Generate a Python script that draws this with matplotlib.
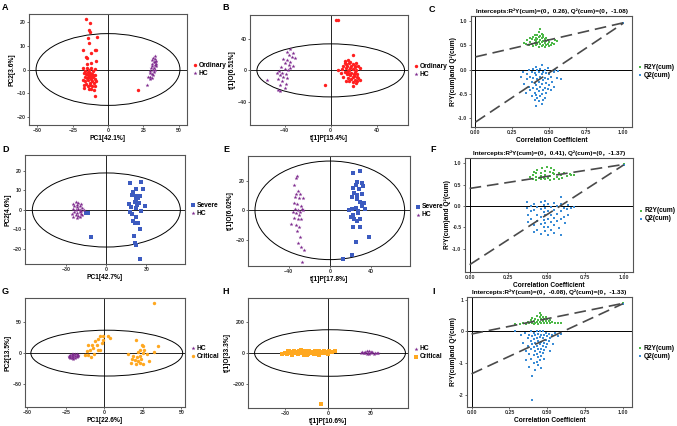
import numpy as np
import matplotlib.pyplot as plt
from matplotlib.patches import Ellipse

plt.rcParams['font.family'] = ['Liberation Sans', 'Noto Sans CJK SC']
plt.rcParams['font.weight'] = 'bold'
plt.rcParams['axes.labelweight'] = 'bold'

RED = '#FF1F1F'
PURPLE = '#7E2A8E'
SQBLUE = '#3C5BC0'
ORANGE = '#FFA820'
GREEN = '#4DB848'
PBLUE = '#3A8CD6'

# ---- A: PCA Ordinary vs HC ----
a_ord_x = [-15.7, -12.9, -13.4, -12.9, -7.5, -14.1, -13.4, -17.6, -9.4, -8.2, -11.7, -15.7, -14.8, -8.2,
           -12.4, -14.8, -17.5, -16, -15, -13.5, -12, -10.5, -9, -17, -15.5, -14, -12.5, -11, -9.5,
           -16.5, -15, -13.5, -12, -10.5, -9, -17.8, -16, -14.5, -13, -11.5, -10, -8.8, -15.5, -14,
           -12.5, -11, -9.5, -17, -13.5, -12, -10, -14.5, -11.8, -13, -16.8, -10.8, -8.9, 21.1]
a_ord_y = [21.3, 19.5, 16.5, 15.8, 13.7, 13, 11.2, 8.1, 8.1, 8.1, 7, 5.3, 5, 3.6,
           2.8, 2.5, 0.5, -0.5, 0.8, -0.2, 0.5, -0.8, 0.2, -1.5, -2, -1.2, -2.5, -1.8, -2.2,
           -3, -3.5, -3, -4, -3.2, -3.8, -4.5, -5, -4.5, -5.5, -5, -5.8, -4.8, -6.2, -6.8,
           -6.5, -7, -6.8, -7.8, -8, -8.3, -8.5, -2.5, -3.3, -1.5, -6.5, -2.5, -11.2, -8.6]
a_hc_x = [33, 32, 33.5, 31.5, 34, 32.5, 31, 33, 34, 31.5, 32.5, 30.5, 33.5, 31.8, 30, 32.8, 29.5,
          31, 32, 30, 28.5, 31.5, 29.8, 27.8, 33, 34.2]
a_hc_y = [5.8, 5, 4.5, 4, 3.5, 3, 2.5, 2, 1.5, 1.5, 0.8, 0.5, 0, -0.2, -0.8, -1, -1.5,
          -2, -2.5, -3, -3.2, -3.5, -4, -6.5, 3, 2.5]

# ---- B: OPLS-DA Ordinary vs HC ----
b_ord_x = [5, 6, -5, 19, 12, 15, 17, 13, 16, 19, 22, 11, 14, 18, 21, 24, 10, 13, 16, 19, 22, 25, 6,
           12, 15, 18, 21, 23, 14, 17, 20, 23, 11, 15, 18, 21, 24, 16, 19, 22, 19, 13, 20, 17, 14,
           12, 9, 23, 25, 16, 19, 21]
b_ord_y = [65, 64.5, -19, 20, 12, 13, 11, 8, 9, 8, 10, 5, 6, 5, 4, 6, 2, 2.5, 1, 2, 0, 3, 0,
           -2, -1, -3, -2, -4, -5, -6, -7, -8, -8, -10, -11, -12, -10, -14, -15, -16, -20, -14, -5, 3,
           -2.5, 10, -3, -13, -12, -4, -9, 6]
b_hc_x = [-35, -38, -33, -36, -34, -31, -41, -38, -35, -40, -36, -33, -43, -40, -37, -45, -42, -39,
          -44, -41, -38, -46, -55, -42, -39, -44, -40, -46, -44, -35, -47]
b_hc_y = [28, 24, 22, 20, 17, 16, 15, 13, 11, 9, 7, 6, 4, 2, 1, -1, -3, -5,
          -6, -8, -10, -11, -12, -14, -17, -19, -22, -25, -27, 3, -3]

# ---- C: permutation test ----
c_r2_x = [0.33, 0.34, 0.35, 0.36, 0.37, 0.38, 0.38, 0.39, 0.39, 0.40, 0.40, 0.40, 0.41, 0.41, 0.42,
          0.42, 0.42, 0.43, 0.43, 0.43, 0.43, 0.44, 0.44, 0.44, 0.44, 0.45, 0.45, 0.45, 0.45, 0.46,
          0.46, 0.46, 0.47, 0.47, 0.47, 0.48, 0.48, 0.49, 0.49, 0.50, 0.50, 0.51, 0.52, 0.53, 0.54,
          0.55, 0.37, 0.41, 0.46, 0.48, 1.0]
c_r2_y = [0.55, 0.52, 0.60, 0.50, 0.57, 0.53, 0.62, 0.48, 0.66, 0.55, 0.60, 0.70, 0.50, 0.58, 0.53,
          0.63, 0.72, 0.47, 0.57, 0.67, 0.78, 0.52, 0.60, 0.69, 0.84, 0.49, 0.56, 0.64, 0.74, 0.51,
          0.59, 0.67, 0.47, 0.55, 0.62, 0.50, 0.58, 0.53, 0.61, 0.48, 0.56, 0.51, 0.55, 0.52, 0.60,
          0.58, 0.64, 0.65, 0.72, 0.65, 0.96]
c_q2_x = [0.31, 0.32, 0.33, 0.34, 0.35, 0.35, 0.36, 0.36, 0.37, 0.37, 0.38, 0.38, 0.38, 0.39, 0.39,
          0.39, 0.40, 0.40, 0.40, 0.40, 0.41, 0.41, 0.41, 0.41, 0.41, 0.42, 0.42, 0.42, 0.42, 0.43,
          0.43, 0.43, 0.43, 0.44, 0.44, 0.44, 0.44, 0.45, 0.45, 0.45, 0.45, 0.45, 0.46, 0.46, 0.46,
          0.46, 0.47, 0.47, 0.47, 0.47, 0.48, 0.48, 0.48, 0.49, 0.49, 0.49, 0.50, 0.50, 0.51, 0.51,
          0.52, 0.53, 0.53, 0.54, 0.55, 0.56, 0.58, 1.0]
c_q2_y = [-0.15, -0.05, -0.30, -0.48, -0.10, -0.20, 0.00, -0.35, -0.15, -0.42, -0.05, -0.25, -0.55,
          0.02, -0.18, -0.38, -0.08, -0.28, -0.48, -0.62, 0.05, -0.12, -0.32, -0.52, -0.75, 0.00,
          -0.20, -0.40, -0.58, -0.05, -0.25, -0.45, -0.65, 0.02, -0.15, -0.35, -0.55, 0.10, -0.10,
          -0.30, -0.50, -0.70, -0.05, -0.22, -0.42, -0.62, 0.00, -0.18, -0.38, -0.58, -0.08, -0.28,
          -0.48, 0.03, -0.20, -0.40, -0.10, -0.32, -0.15, -0.42, -0.25, -0.05, -0.35, 0.00, -0.18,
          -0.02, -0.20, 0.95]

# ---- D: PCA Severe vs HC ----
d_sev_x = [18, 26.25, 20, 22, 27.5, 19.5, 22.5, 23.75, 25, 21.25, 24.5, 17, 18.75, 28.75, 22.5, 26.25,
           19.5, 22.5, 20, 23.75, 21.25, 25, 20.5, 21.25, 22.5, 25, -13.75, -15, -11.25, 18, 23, 22]
d_sev_y = [14, 14.5, 9.4, 11, 11, 7.7, 7.2, 6, 7.2, 4.3, 3.8, 3.1, 1.7, 2, 0.9, -0.3,
           -2, -3.4, -5.5, -6.8, -6.5, -9.9, -13.3, -16.8, -18, -25.3, -1.4, -1.7, -13.7, -0.9, 2.6, 5.8]
d_hc_x = [-25, -23, -21, -19, -24, -22, -20, -18, -25, -23, -21, -19, -17, -24, -22, -20, -26, -23,
          -21, -19, -25, -22, -20, -18, -22, -20]
d_hc_y = [3, 4, 3.5, 3, 2, 1.5, 2, 1, 0.5, 0, 0.5, -0.5, 0, -1, -1.5, -1, -2, -2.5,
          -3, -2, -3.5, -4, -3.8, -2.5, 2.5, 0]

# ---- E: OPLS-DA Severe vs HC ----
e_sev_x = [23, 29.4, 26.2, 31, 25.2, 32.4, 23, 28.5, 24, 26.5, 31.7, 21.4, 26.2, 29.4, 33.7, 18.8,
           21.4, 25.2, 27.8, 34.3, 31, 20.7, 24, 26.2, 29.4, 22.7, 29.4, 38.5, 25.6, 21.4, 13.3, 27.2, 23]
e_sev_y = [25, 26.7, 19.3, 18.7, 17, 16.4, 14.8, 14.2, 11.5, 10.3, 11, 9.2, 7.4, 5.8, 5.2, 0.2,
           0.7, 1.8, -0.2, 0.7, 2.9, -4.7, -6, -7.2, -6, -11.5, -11.5, -17.8, -21.1, -30, -33, -2, -3.1]
e_hc_x = [-33, -32, -35, -31, -33, -29, -34, -30, -26, -35, -32, -28, -34, -31, -27, -36, -33, -30,
          -35, -31, -28, -38, -33, -30, -32, -29, -31, -28, -25, -27, -26, -29]
e_hc_y = [22, 23, 17, 13, 11, 11, 9, 8, 8, 5, 4, 3, 1, 0, 1, -1, -2, -3,
          -5, -6, -6, -9, -10, -11, -14, -18, -22, -25, -27, -35, 0, -1]

# ---- F: permutation test ----
f_r2_x = [0.39, 0.41, 0.41, 0.42, 0.43, 0.43, 0.43, 0.44, 0.46, 0.46, 0.46, 0.47, 0.48, 0.49, 0.49,
          0.49, 0.50, 0.51, 0.52, 0.52, 0.52, 0.53, 0.55, 0.55, 0.55, 0.57, 0.58, 0.58, 0.59, 0.60,
          0.61, 0.63, 0.65, 0.66, 0.68, 0.45, 0.54, 1.0]
f_r2_y = [0.68, 0.63, 0.72, 0.80, 0.60, 0.68, 0.76, 0.85, 0.62, 0.70, 0.78, 0.88, 0.65, 0.62, 0.72,
          0.82, 0.90, 0.66, 0.60, 0.70, 0.80, 0.88, 0.64, 0.74, 0.84, 0.68, 0.62, 0.78, 0.72, 0.66,
          0.76, 0.70, 0.74, 0.72, 0.73, 0.66, 0.76, 0.98]
f_q2_x = [0.37, 0.37, 0.38, 0.38, 0.40, 0.40, 0.40, 0.42, 0.42, 0.42, 0.42, 0.44, 0.44, 0.44, 0.44,
          0.46, 0.46, 0.46, 0.46, 0.46, 0.48, 0.48, 0.48, 0.48, 0.49, 0.49, 0.49, 0.49, 0.49, 0.51,
          0.51, 0.51, 0.51, 0.51, 0.53, 0.53, 0.53, 0.53, 0.55, 0.55, 0.55, 0.55, 0.55, 0.57, 0.57,
          0.57, 0.58, 0.59, 0.59, 0.59, 0.59, 0.59, 0.61, 0.61, 0.62, 0.63, 0.64, 0.64, 0.66, 0.68, 1.0]
f_q2_y = [-0.05, 0.10, -0.20, -0.38, 0.00, -0.12, -0.30, 0.05, -0.10, -0.45, -0.60, -0.02, -0.20,
          -0.35, -0.55, 0.10, -0.08, -0.25, -0.42, -0.65, 0.02, -0.15, -0.32, -0.50, 0.12, -0.05,
          -0.22, -0.40, -0.58, 0.05, -0.12, -0.30, -0.48, -0.68, -0.02, -0.20, -0.38, -0.55, 0.08,
          -0.10, -0.28, -0.45, -0.62, 0.00, -0.18, -0.35, -0.52, 0.22, 0.05, -0.12, -0.30, -0.68,
          -0.05, -0.25, -0.40, -0.08, 0.02, -0.20, -0.05, -0.02, 0.96]

# ---- G: PCA Critical vs HC ----
g_hc_x = [-23, -22, -21, -20, -19, -18, -17, -22, -21, -20, -19, -18, -21, -20, -19, -23, -22, -17,
          -18, -20]
g_hc_y = [-5, -3, -2, -3, -2, -4, -5, -6, -4, -6, -5, -7, -8, -9, -8, -7, -8, -3, -2, -1]
g_cri_x = [-2.8, -3.9, -0.6, -1.7, -6, -8.2, -10.4, -5, -7.1, -9.3, -11.4, -12.5, -10.4, -8.9, -6.7,
           -3.9, -2.8, 2.6, 3.7, -1.1, 20.5, 24.2, 25.3, 23.1, 15.6, 18.8, 20.9, 23.1, 19.7, 21.8,
           24, 17.5, 20.7, 23.1, 25.3, 27.4, 29, 35, 32.2, 22, 24.9, 25.7, 18.2, 32.2]
g_cri_y = [26.9, 22.6, 21.5, 16, 18.8, 13.4, 13.4, 13.4, 8, 5.4, 2.7, -2.7, -2.7, -6.5, -1.1,
           4.3, 4.3, 28, 24.2, 27, 20.4, 13.4, 10.8, 5.4, -1.1, -5.4, -6.5, -4.3, -10.8, -13.4,
           -9.7, -16.1, -17.2, -16.1, -17.2, -1.1, -13.4, 10.8, 1.1, 1.1, 0, 4.3, -9.7, 80.6]

# ---- H: OPLS-DA Critical vs HC ----
h_hc_x = [23, 24, 25, 26, 27, 28, 29, 30, 31, 32, 33, 34, 35, 27, 30, 25, 29]
h_hc_y = [0, 5, -3, 8, -5, 2, 10, -2, 4, -8, 2, -3, 0, 12, 6, 3, -6]
h_cri_x = [-32, -30, -29, -28, -27, -26, -25, -24, -23, -22, -21, -20, -19, -18, -17, -16, -15, -14,
           -13, -12, -11, -10, -9, -8, -7, -6, -5, -4, -3, -2, -1, 0, 1, 3, 5, -24, -19, -15, -11,
           -27, -6, -5]
h_cri_y = [-5, 3, -8, 10, -3, 5, -10, 15, 0, 8, -6, 12, -2, 4, -12, 10, 2, -5,
           14, 0, 7, -8, 12, 3, -4, 16, 6, -2, 10, 0, 8, -6, 12, 4, 10, -2, 18, -12, -3,
           12, -14, -330]

# ---- I: permutation test ----
i_r2_x = [0.29, 0.32, 0.34, 0.36, 0.37, 0.38, 0.39, 0.40, 0.40, 0.41, 0.41, 0.42, 0.42, 0.43, 0.43,
          0.44, 0.44, 0.45, 0.45, 0.45, 0.46, 0.46, 0.46, 0.47, 0.47, 0.48, 0.48, 0.49, 0.49, 0.50,
          0.50, 0.51, 0.52, 0.52, 0.53, 0.55, 0.57, 0.59, 1.0]
i_r2_y = [0.22, 0.22, 0.25, 0.23, 0.30, 0.25, 0.35, 0.28, 0.42, 0.22, 0.33, 0.26, 0.40, 0.30, 0.48,
          0.24, 0.36, 0.30, 0.45, 0.58, 0.26, 0.38, 0.52, 0.32, 0.44, 0.28, 0.40, 0.34, 0.46, 0.28,
          0.38, 0.32, 0.25, 0.36, 0.30, 0.26, 0.28, 0.27, 0.88]
i_q2_x = [0.29, 0.33, 0.34, 0.35, 0.36, 0.36, 0.37, 0.37, 0.38, 0.38, 0.38, 0.39, 0.39, 0.39, 0.39,
          0.40, 0.40, 0.40, 0.40, 0.41, 0.41, 0.41, 0.41, 0.41, 0.42, 0.42, 0.42, 0.42, 0.43, 0.43,
          0.43, 0.43, 0.43, 0.44, 0.44, 0.44, 0.44, 0.44, 0.45, 0.45, 0.45, 0.45, 0.45, 0.46, 0.46,
          0.46, 0.46, 0.46, 0.47, 0.47, 0.47, 0.47, 0.48, 0.48, 0.48, 0.48, 0.49, 0.49, 0.49, 0.50,
          0.50, 0.51, 0.51, 0.52, 0.52, 0.53, 0.54, 0.55, 0.57, 0.59, 1.0]
i_q2_y = [0.00, -0.10, -0.35, -0.05, -0.60, -0.90, -0.20, -0.45, -0.10, -0.70, -1.10, 0.00, -0.30,
          -0.55, -0.85, -0.15, -0.40, -1.40, -2.15, -0.05, -0.25, -0.50, -0.75, -1.00, -0.12, -0.35,
          -0.60, -1.20, 0.02, -0.20, -0.45, -0.70, -0.95, -0.08, -0.30, -0.55, -0.80, -1.05, 0.00,
          -0.18, -0.40, -0.65, -0.90, -0.10, -0.32, -0.55, -0.78, -1.15, 0.02, -0.22, -0.45, -0.68,
          -0.12, -0.35, -0.58, -0.85, -0.05, -0.28, -0.50, -0.15, -0.40, -0.08, -0.30, -0.20, -0.60,
          -0.10, -0.40, -0.05, -0.15, -0.08, 0.87]

W, H = 677, 426
fig = plt.figure(figsize=(W / 100, H / 100), dpi=100)


def px_axes(left, top, right, bottom):
    return fig.add_axes([left / W, 1 - bottom / H, (right - left) / W, (bottom - top) / H])


def frame(ax):
    for s in ax.spines.values():
        s.set_color('#555555')
        s.set_linewidth(0.8)
    ax.tick_params(labelsize=3.8, length=1.5, width=0.5, pad=1, colors='#333333')


def score_panel(ax, groups, xlim, ylim, xticks, yticks, ell, xlabel, ylabel):
    for x, y, color, marker, size, label in groups:
        ax.scatter(x, y, c=color, marker=marker, s=size, linewidths=0, label=label, zorder=3)
    ax.axhline(0, color='black', lw=0.6, zorder=2)
    ax.axvline(0, color='black', lw=0.6, zorder=2)
    cx, cw, ch = ell
    ax.add_patch(Ellipse((cx, 0), 2 * cw, 2 * ch, fill=False, ec='black', lw=0.7, zorder=2))
    ax.set_xlim(xlim)
    ax.set_ylim(ylim)
    ax.set_xticks(xticks)
    ax.set_yticks(yticks)
    ax.set_xlabel(xlabel, fontsize=4.8, labelpad=1)
    ax.set_ylabel(ylabel, fontsize=4.8, labelpad=1)
    frame(ax)
    ax.legend(loc='center left', bbox_to_anchor=(1.0, 0.5), frameon=False, prop={'size': 4.8, 'weight': 'bold'},
              handletextpad=0.0, borderaxespad=0.3, labelspacing=0.15, handlelength=1.0, markerscale=1.0)


def perm_panel(ax, r2x, r2y, q2x, q2y, r2_int, q2_int, r2_end, q2_end, ylim, yticks, ylabs, title):
    ax.scatter(r2x, r2y, c=GREEN, marker='s', s=3, linewidths=0, label='R2Y(cum)', zorder=3)
    ax.scatter(q2x, q2y, c=PBLUE, marker='s', s=3, linewidths=0, label='Q2(cum)', zorder=3)
    ax.axhline(0, color='black', lw=0.7, zorder=2)
    ax.axvline(0, color='black', lw=0.7, zorder=2)
    ax.plot([0, 1], [r2_int, r2_end], color='#4a4a4a', lw=1.2, ls=(0, (7, 3.5)), zorder=4)
    ax.plot([0, 1], [q2_int, q2_end], color='#4a4a4a', lw=1.2, ls=(0, (7, 3.5)), zorder=4)
    ax.set_xlim(-0.03, 1.06)
    ax.set_ylim(ylim)
    ax.set_xticks([0, 0.25, 0.5, 0.75, 1.0])
    ax.set_xticklabels(['0.00', '0.25', '0.50', '0.75', '1.00'])
    ax.set_yticks(yticks)
    ax.set_yticklabels(ylabs)
    ax.set_xlabel('Correlation Coefficient', fontsize=4.8, labelpad=1)
    ax.set_ylabel('R²Y(cum)and Q²(cum)', fontsize=4.8, labelpad=1)
    ax.set_title(title, fontsize=4.6, fontweight='bold', pad=2)
    frame(ax)
    ax.legend(loc='center left', bbox_to_anchor=(1.0, 0.5), frameon=False, prop={'size': 4.8, 'weight': 'bold'},
              handletextpad=0.0, borderaxespad=0.3, labelspacing=0.15, handlelength=1.0, markerscale=1.0)


# first row
axA = px_axes(29, 14, 187, 125)
score_panel(axA, [(a_ord_x, a_ord_y, RED, 'o', 6, 'Ordinary'), (a_hc_x, a_hc_y, PURPLE, '*', 9, 'HC')],
            (-56, 56), (-23.2, 23.2), [-50, -25, 0, 25, 50], [-20, -10, 0, 10, 20], (0, 51, 15),
            'PC1[42.1%]', 'PC2[3.6%]')
axB = px_axes(250, 15, 408, 125)
score_panel(axB, [(b_ord_x, b_ord_y, RED, 'o', 6, 'Ordinary'), (b_hc_x, b_hc_y, PURPLE, '*', 9, 'HC')],
            (-70, 67), (-70, 71), [-40, 0, 40], [-40, 0, 40], (0, 64, 34),
            't[1]P[15.4%]', 't[1]O[6.51%]')
axC = px_axes(471, 16, 632, 127)
perm_panel(axC, c_r2_x, c_r2_y, c_q2_x, c_q2_y, 0.26, -1.08, 0.96, 0.95, (-1.18, 1.10),
           [-1.0, -0.5, 0.0, 0.5, 1.0], ['-1.0', '-0.5', '0.0', '0.5', '1.0'],
           'Intercepts:R²Y(cum)=(0，0.26), Q²(cum)=(0，-1.08)')

# second row
axD = px_axes(25, 155, 185, 264)
score_panel(axD, [(d_sev_x, d_sev_y, SQBLUE, 's', 6, 'Severe'), (d_hc_x, d_hc_y, PURPLE, '*', 9, 'HC')],
            (-61, 59), (-27.7, 28.2), [-30, 0, 30], [-20, -10, 0, 10, 20], (0, 55.5, 19),
            'PC1[42.7%]', 'PC2[4.6%]')
axE = px_axes(248, 156, 410, 266)
score_panel(axE, [(e_sev_x, e_sev_y, SQBLUE, 's', 6, 'Severe'), (e_hc_x, e_hc_y, PURPLE, '*', 9, 'HC')],
            (-79.6, 78), (-37.5, 36.6), [-40, 0, 40], [-20, 0, 20], (0, 72.8, 33.2),
            't[1]P[17.8%]', 't[1]O[6.02%]')
axF = px_axes(465, 158, 633, 272)
perm_panel(axF, f_r2_x, f_r2_y, f_q2_x, f_q2_y, 0.41, -1.37, 0.97, 0.96, (-1.54, 1.12),
           [-1.0, -0.5, 0.0, 0.5, 1.0], ['-1.0', '-0.5', '0.0', '0.5', '1.0'],
           'Intercepts:R²Y(cum)=(0，0.41), Q²(cum)=(0，-1.37)')

# third row
axG = px_axes(25, 298, 185, 407)
score_panel(axG, [(g_hc_x, g_hc_y, PURPLE, '*', 9, 'HC'), (g_cri_x, g_cri_y, ORANGE, 'o', 6, 'Critical')],
            (-51.4, 52.3), (-87, 89), [-50, -25, 0, 25, 50], [-50, 0, 50], (1.6, 49.2, 37),
            'PC1[22.6%]', 'PC2[13.5%]')
axH = px_axes(248, 298, 408, 408)
score_panel(axH, [(h_hc_x, h_hc_y, PURPLE, '*', 9, 'HC'), (h_cri_x, h_cri_y, ORANGE, 's', 6, 'Critical')],
            (-56, 56), (-357, 357), [-30, 0, 30], [-200, 0, 200], (1.4, 52.8, 151),
            't[1]P[10.6%]', 't[1]O[33.3%]')
axI = px_axes(467, 297, 632, 407)
perm_panel(axI, i_r2_x, i_r2_y, i_q2_x, i_q2_y, -0.08, -1.33, 0.88, 0.87, (-2.37, 1.08),
           [-2, -1, 0, 1], ['-2', '-1', '0', '1'],
           'Intercepts:R²Y(cum)=(0，-0.08), Q²(cum)=(0，-1.33)')

# panel letters
for letter, x, y in [('A', 2, 3), ('B', 222, 3), ('C', 429, 5), ('D', 2, 145), ('E', 223, 145),
                     ('F', 430, 145), ('G', 2, 287), ('H', 222, 287), ('I', 432, 287)]:
    fig.text(x / W, 1 - y / H, letter, fontsize=6.5, fontweight='bold', va='top', ha='left')

fig.savefig('out.png', dpi=100)
